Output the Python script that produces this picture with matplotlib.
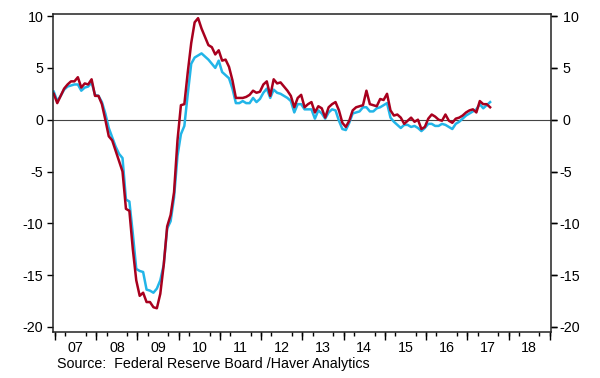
import matplotlib.pyplot as plt
import numpy as np

plt.rcParams['font.family'] = ['Liberation Sans', 'DejaVu Sans']
plt.rcParams['axes.unicode_minus'] = False

# monthly values, Jan 2007 onwards
red = [2.5, 1.6, 2.3, 3.0, 3.4, 3.7, 3.7, 4.1, 3.1, 3.5, 3.4, 3.9,
       2.3, 2.3, 1.5, 0.0, -1.6, -2.0, -3.0, -4.0, -5.0, -8.6, -8.8, -12.5,
       -15.5, -17.0, -16.7, -17.6, -17.6, -18.1, -18.2, -16.8, -14.0, -10.3, -9.2, -7.0,
       -2.0, 1.4, 1.5, 4.6, 7.4, 9.4, 9.8, 8.8, 8.0, 7.2, 7.0, 6.3,
       6.7, 5.7, 5.8, 5.1, 3.8, 2.1, 2.1, 2.1, 2.2, 2.4, 2.8, 2.6,
       2.7, 3.4, 3.7, 2.3, 3.9, 3.5, 3.6, 3.2, 2.8, 2.3, 1.2, 2.1,
       2.4, 1.2, 1.5, 1.7, 0.7, 1.3, 1.1, 0.2, 1.2, 1.5, 1.7, 0.9,
       -0.3, -0.7, -0.1, 0.9, 1.2, 1.3, 1.4, 2.8, 1.5, 1.4, 1.3, 2.0,
       1.9, 2.5, 0.9, 0.4, 0.5, 0.2, -0.4, -0.1, 0.2, -0.2, 0.0, -0.9,
       -0.7, 0.1, 0.5, 0.3, 0.0, -0.1, 0.5, -0.1, -0.3, 0.1, 0.2, 0.4,
       0.7, 0.9, 1.0, 0.7, 1.8, 1.5, 1.5, 1.2]
blue = [2.7, 1.8, 2.3, 2.9, 3.2, 3.3, 3.4, 3.4, 2.8, 3.1, 3.2, 3.6,
        2.4, 2.3, 1.7, 0.6, -0.8, -1.7, -2.6, -3.3, -3.7, -7.7, -7.9, -11.0,
        -14.4, -14.6, -14.7, -16.4, -16.5, -16.7, -16.3, -15.5, -14.0, -10.5, -9.8, -7.5,
        -3.5, -1.4, -0.6, 2.5, 5.4, 6.0, 6.2, 6.4, 6.1, 5.8, 5.4, 5.0,
        5.7, 4.6, 4.3, 4.0, 3.0, 1.6, 1.6, 1.8, 1.6, 1.6, 2.1, 1.7,
        2.0, 2.6, 3.0, 2.1, 2.9, 2.6, 2.5, 2.3, 2.1, 1.8, 0.7, 1.5,
        1.5, 1.0, 1.0, 1.0, 0.1, 0.9, 0.6, 0.1, 0.7, 1.0, 0.9, -0.1,
        -0.9, -1.0, -0.3, 0.6, 0.7, 0.8, 1.2, 1.2, 0.8, 0.8, 1.1, 1.2,
        1.4, 1.6, 0.2, -0.2, -0.5, -0.8, -0.5, -0.5, -0.7, -0.6, -0.8, -1.1,
        -0.8, -0.4, -0.4, -0.6, -0.6, -0.4, -0.5, -0.7, -0.9, -0.4, -0.2, 0.1,
        0.4, 0.6, 0.8, 1.0, 1.5, 1.1, 1.4, 1.7]
years = list(range(2007, 2020))
year_labels = ['07', '08', '09', '10', '11', '12', '13', '14', '15', '16', '17', '18']
yticks = [-20, -15, -10, -5, 0, 5, 10]
source = 'Source:  Federal Reserve Board /Haver Analytics'

t = 2006.97 + np.arange(len(red)) / 12
fs = 10.3

fig = plt.figure(figsize=(6, 3.78), dpi=100)
ax = fig.add_axes([0.0883, 0.122, 0.830, 0.842])

ax.axhline(0, color='#444444', lw=0.8)
ax.plot(t, blue, color='#22b5e8', lw=1.8)
ax.plot(t, red, color='#a8001e', lw=1.8)

ax.set_xlim(2006.95, 2019.03)
ax.set_ylim(-20.48, 10.24)

for s in ax.spines.values():
    s.set_linewidth(1.1)
    s.set_color('#222222')

# y axis both sides
ax.set_yticks(yticks)
ax.set_yticklabels([str(v) for v in yticks])
ax.tick_params(axis='y', which='major', direction='out', length=4, width=1,
               labelsize=fs, pad=3, right=True, labelright=False)
ay = ax.secondary_yaxis('right')
ay.set_yticks(yticks)
ay.set_yticklabels([str(v) if v < 0 else ' ' + str(v) for v in yticks])
ay.tick_params(direction='out', length=4, width=1, labelsize=fs, pad=2)
ay.spines['right'].set_visible(False)

# x axis: year labels centered, quarter minor ticks, longer year ticks
ax.set_xticks([y + 0.5 for y in years[:-1]])
ax.set_xticklabels(year_labels)
ax.set_xticks(np.arange(2007, 2019.01, 0.25), minor=True)
ax.tick_params(axis='x', which='major', length=0, labelsize=fs, pad=6.8)
ax.tick_params(axis='x', which='minor', direction='out', length=3, width=1)
axx = ax.secondary_xaxis('bottom')
axx.set_xticks(years)
axx.set_xticklabels([])
axx.tick_params(direction='out', length=5.5, width=1)
axx.spines['bottom'].set_visible(False)

fig.text(57 / 600, 1 - 364 / 378, source, fontsize=fs, va='center', ha='left')

fig.savefig('out.png', dpi=100)
